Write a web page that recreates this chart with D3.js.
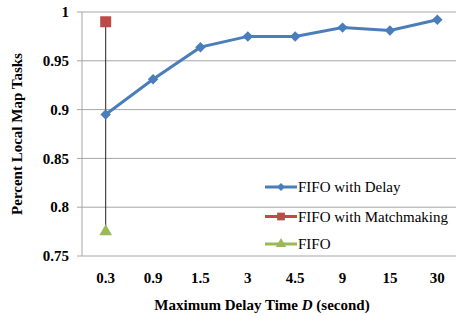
<!DOCTYPE html>
<html>
<head>
<meta charset="utf-8">
<script src="https://cdn.jsdelivr.net/npm/d3@7"></script>
<style>
  body { margin: 0; background: #fff; }
</style>
</head>
<body>
<div id="wrapper"></div>
<script>
const categories = ['0.3', '0.9', '1.5', '3', '4.5', '9', '15', '30']
const delayValues = [0.895, 0.931, 0.964, 0.975, 0.975, 0.984, 0.981, 0.992]
const matchCat = '0.3'
const matchValue = 0.99
const fifoCat = '0.3'
const fifoValue = 0.774
const yTicks = [0.75, 0.8, 0.85, 0.9, 0.95, 1]
const legendNames = ['FIFO with Delay', 'FIFO with Matchmaking', 'FIFO']

const width = 456
const height = 316
const margin = { left: 82, top: 12, right: -5, bottom: 60 }
const blue = '#4a7ebb'
const red = '#be4b48'
const green = '#98b954'
const gridColor = '#a6a6a6'
const serif = '"Liberation Serif", "Times New Roman", "DejaVu Serif", serif'

const svg = d3.select('#wrapper').append('svg')
  .attr('width', width)
  .attr('height', height)
  .attr('font-family', serif)

const x = d3.scaleBand()
  .domain(categories)
  .range([margin.left, width - margin.right])

const y = d3.scaleLinear()
  .domain([0.75, 1])
  .range([height - margin.bottom, margin.top])

// gridlines
svg.append('g').selectAll('line').data(yTicks).enter().append('line')
  .attr('x1', margin.left - 5)
  .attr('x2', width)
  .attr('y1', d => y(d))
  .attr('y2', d => y(d))
  .attr('stroke', gridColor)
  .attr('stroke-width', 1)

// y axis line
svg.append('line')
  .attr('x1', margin.left).attr('x2', margin.left)
  .attr('y1', y(1)).attr('y2', y(0.75))
  .attr('stroke', gridColor)

// y tick labels
svg.append('g').selectAll('text').data(yTicks).enter().append('text')
  .attr('x', margin.left - 13)
  .attr('y', d => y(d))
  .attr('dy', '0.35em')
  .attr('text-anchor', 'end')
  .attr('font-family', serif)
  .style('font-size', '15px')
  .style('font-weight', 'bold')
  .text(d => d3.format('')(d))

// x tick labels
svg.append('g').selectAll('text').data(categories).enter().append('text')
  .attr('x', d => x(d) + x.bandwidth() / 2)
  .attr('y', 283)
  .attr('text-anchor', 'middle')
  .attr('font-family', serif)
  .style('font-size', '15px')
  .style('font-weight', 'bold')
  .text(d => d)

// axis titles
const xTitle = svg.append('text')
  .attr('x', 262)
  .attr('y', 310)
  .attr('text-anchor', 'middle')
  .attr('font-family', serif)
  .style('font-size', '15px')
  .style('font-weight', 'bold')
xTitle.append('tspan').text('Maximum Delay Time ')
xTitle.append('tspan').style('font-style', 'italic').text('D')
xTitle.append('tspan').text(' (second)')

svg.append('text')
  .attr('transform', 'translate(22,' + y(0.875) + ') rotate(-90)')
  .attr('text-anchor', 'middle')
  .attr('font-family', serif)
  .style('font-size', '15px')
  .style('font-weight', 'bold')
  .text('Percent Local Map Tasks')

const cx = d => x(d) + x.bandwidth() / 2

// high-low line
svg.append('line')
  .attr('x1', cx(matchCat)).attr('x2', cx(matchCat))
  .attr('y1', y(matchValue)).attr('y2', y(fifoValue))
  .attr('stroke', '#222')
  .attr('stroke-width', 1)

// FIFO with Delay line
const line = d3.line()
  .x((d, i) => cx(categories[i]))
  .y(d => y(d))

svg.append('path')
  .datum(delayValues)
  .attr('d', line)
  .attr('fill', 'none')
  .attr('stroke', blue)
  .attr('stroke-width', 3)

const diamond = d3.symbol().type(d3.symbolDiamond2).size(70)
svg.append('g').selectAll('path').data(delayValues).enter().append('path')
  .attr('transform', (d, i) => 'translate(' + cx(categories[i]) + ',' + y(d) + ')')
  .attr('d', diamond)
  .attr('fill', blue)

// matchmaking square
svg.append('rect')
  .attr('x', cx(matchCat) - 5.5)
  .attr('y', y(matchValue) - 5.5)
  .attr('width', 11).attr('height', 11)
  .attr('fill', red)

// FIFO triangle
svg.append('path')
  .attr('transform', 'translate(' + cx(fifoCat) + ',' + (y(fifoValue) - 1) + ')')
  .attr('d', d3.symbol().type(d3.symbolTriangle).size(70))
  .attr('fill', green)

// legend
const legendColors = [blue, red, green]
const legendY = [187, 216.5, 244]
const lg = svg.append('g').selectAll('g').data(legendNames).enter().append('g')
  .attr('transform', (d, i) => 'translate(265,' + legendY[i] + ')')

lg.append('line')
  .attr('x1', 0).attr('x2', 32)
  .attr('stroke', (d, i) => legendColors[i])
  .attr('stroke-width', 3)

lg.append('path')
  .attr('transform', 'translate(16,0)')
  .attr('d', (d, i) => {
    if (i === 0) return d3.symbol().type(d3.symbolDiamond2).size(40)()
    if (i === 1) return d3.symbol().type(d3.symbolSquare).size(60)()
    return d3.symbol().type(d3.symbolTriangle).size(45)()
  })
  .attr('fill', (d, i) => legendColors[i])

lg.append('text')
  .attr('x', 33)
  .attr('dy', '0.35em')
  .attr('font-family', serif)
  .style('font-size', '15px')
  .text(d => d)
</script>
</body>
</html>
